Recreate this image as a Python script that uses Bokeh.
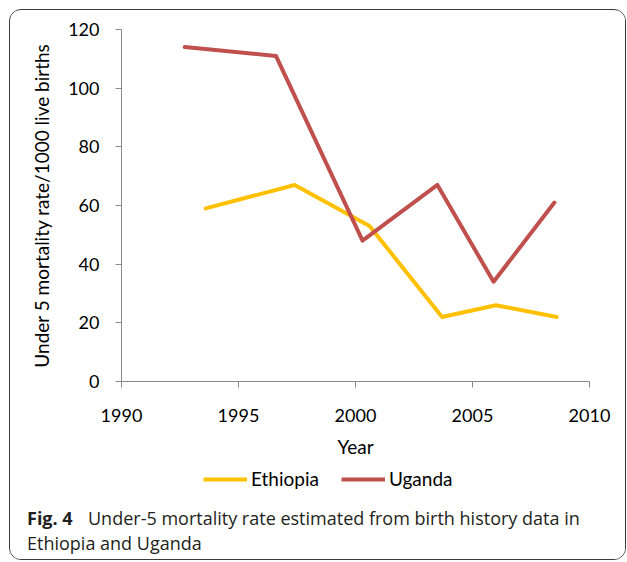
from bokeh.plotting import figure
from bokeh.layouts import column
from bokeh.models import Range1d, FixedTicker, Legend, LegendItem, Label
from bokeh.embed import file_html
from bokeh.resources import INLINE

# Data
eth_years = [1993.6, 1997.4, 2000.6, 2003.7, 2006.0, 2008.6]
eth_u5mr = [59, 67, 53, 22, 26, 22]
uga_years = [1992.7, 1996.6, 2000.3, 2003.5, 2005.9, 2008.5]
uga_u5mr = [114, 111, 48, 67, 34, 61]
x_ticks = [1990, 1995, 2000, 2005, 2010]
y_ticks = [0, 20, 40, 60, 80, 100, 120]
series_names = ["Ethiopia", "Uganda"]
series_colors = ["#FFC000", "#C0504D"]
caption_bold = "Fig. 4"
caption_line1 = "Under-5 mortality rate estimated from birth history data in"
caption_line2 = "Ethiopia and Uganda"

AXIS_FONT = "Lato"
CAP_FONT = "Open Sans"
W = 615
H1 = 450
H2 = 99
NAN = float("nan")

# ---- chart figure ----
p = figure(width=W, height=H1, output_backend="svg", toolbar_location=None,
           x_range=Range1d(1990, 2010), y_range=Range1d(0, 120),
           min_border_left=111, min_border_right=36, min_border_top=19,
           min_border_bottom=79)
p.frame_align = False
p.outline_line_color = None
p.xgrid.visible = False
p.ygrid.visible = False

for ax in (p.xaxis[0], p.yaxis[0]):
    ax.axis_line_color = "#8a8a8a"
    ax.major_tick_line_color = "#8a8a8a"
    ax.minor_tick_line_color = None
    ax.major_tick_in = 0
    ax.major_tick_out = 6
    ax.major_label_text_font = AXIS_FONT
    ax.major_label_text_font_size = "18px"
    ax.major_label_text_color = "#000000"
    ax.axis_label_text_font = AXIS_FONT
    ax.axis_label_text_font_style = "normal"
    ax.axis_label_text_color = "#000000"

p.xaxis.ticker = FixedTicker(ticks=x_ticks)
p.yaxis.ticker = FixedTicker(ticks=y_ticks)
p.xaxis.axis_label = "Year"
p.yaxis.axis_label = "Under 5 mortality rate/1000 live births"
p.xaxis.axis_label_text_font_size = "19px"
p.yaxis.axis_label_text_font_size = "19px"
p.xaxis.major_label_standoff = 21
p.xaxis.axis_label_standoff = 10
p.yaxis.major_label_standoff = 16
p.yaxis.axis_label_standoff = 12

r_eth = p.line(eth_years, eth_u5mr, line_color=series_colors[0], line_width=4,
               line_cap="round", line_join="round")
r_uga = p.line(uga_years, uga_u5mr, line_color=series_colors[1], line_width=4,
               line_cap="round", line_join="round")

# ---- legend + caption figure (frame covers whole canvas, units = pixels) ----
q = figure(width=W, height=H2, output_backend="svg", toolbar_location=None,
           x_range=Range1d(0, W), y_range=Range1d(H2, 0),
           x_axis_type=None, y_axis_type=None,
           min_border_left=0, min_border_right=0, min_border_top=0,
           min_border_bottom=0)
q.frame_align = False
q.outline_line_color = None
q.xgrid.visible = False
q.ygrid.visible = False

# legend keys (single NaN point: draws nothing in the plot itself)
k_eth = q.line([NAN], [NAN], line_color=series_colors[0], line_width=4)
k_uga = q.line([NAN], [NAN], line_color=series_colors[1], line_width=4)
legend = Legend(items=[LegendItem(label=series_names[0], renderers=[k_eth]),
                       LegendItem(label=series_names[1], renderers=[k_uga])],
                orientation="horizontal", location=(193, 68.5),
                padding=0, margin=0, spacing=22, glyph_width=44, glyph_height=24,
                label_standoff=4, label_text_font=AXIS_FONT,
                label_text_font_size="19px", label_text_color="#000000",
                background_fill_alpha=0, border_line_color=None)
q.add_layout(legend, "center")

cap_color = "#231F20"
q.add_layout(Label(x=16.5, y=57, text=caption_bold, text_font=CAP_FONT,
                   text_font_style="bold", text_font_size="18px",
                   text_color=cap_color, text_baseline="alphabetic"))
q.add_layout(Label(x=77.5, y=57, text=caption_line1, text_font=CAP_FONT,
                   text_font_size="18px", text_color=cap_color,
                   text_baseline="alphabetic"))
q.add_layout(Label(x=16.5, y=82, text=caption_line2, text_font=CAP_FONT,
                   text_font_size="18px", text_color=cap_color,
                   text_baseline="alphabetic"))

layout = column(p, q, spacing=0)
layout.styles = {"margin": "9px 0 0 9px", "border": "1.5px solid #3a3a3a",
                 "border-radius": "12px", "overflow": "hidden"}

open("out.html", "w").write(file_html(layout, INLINE))
